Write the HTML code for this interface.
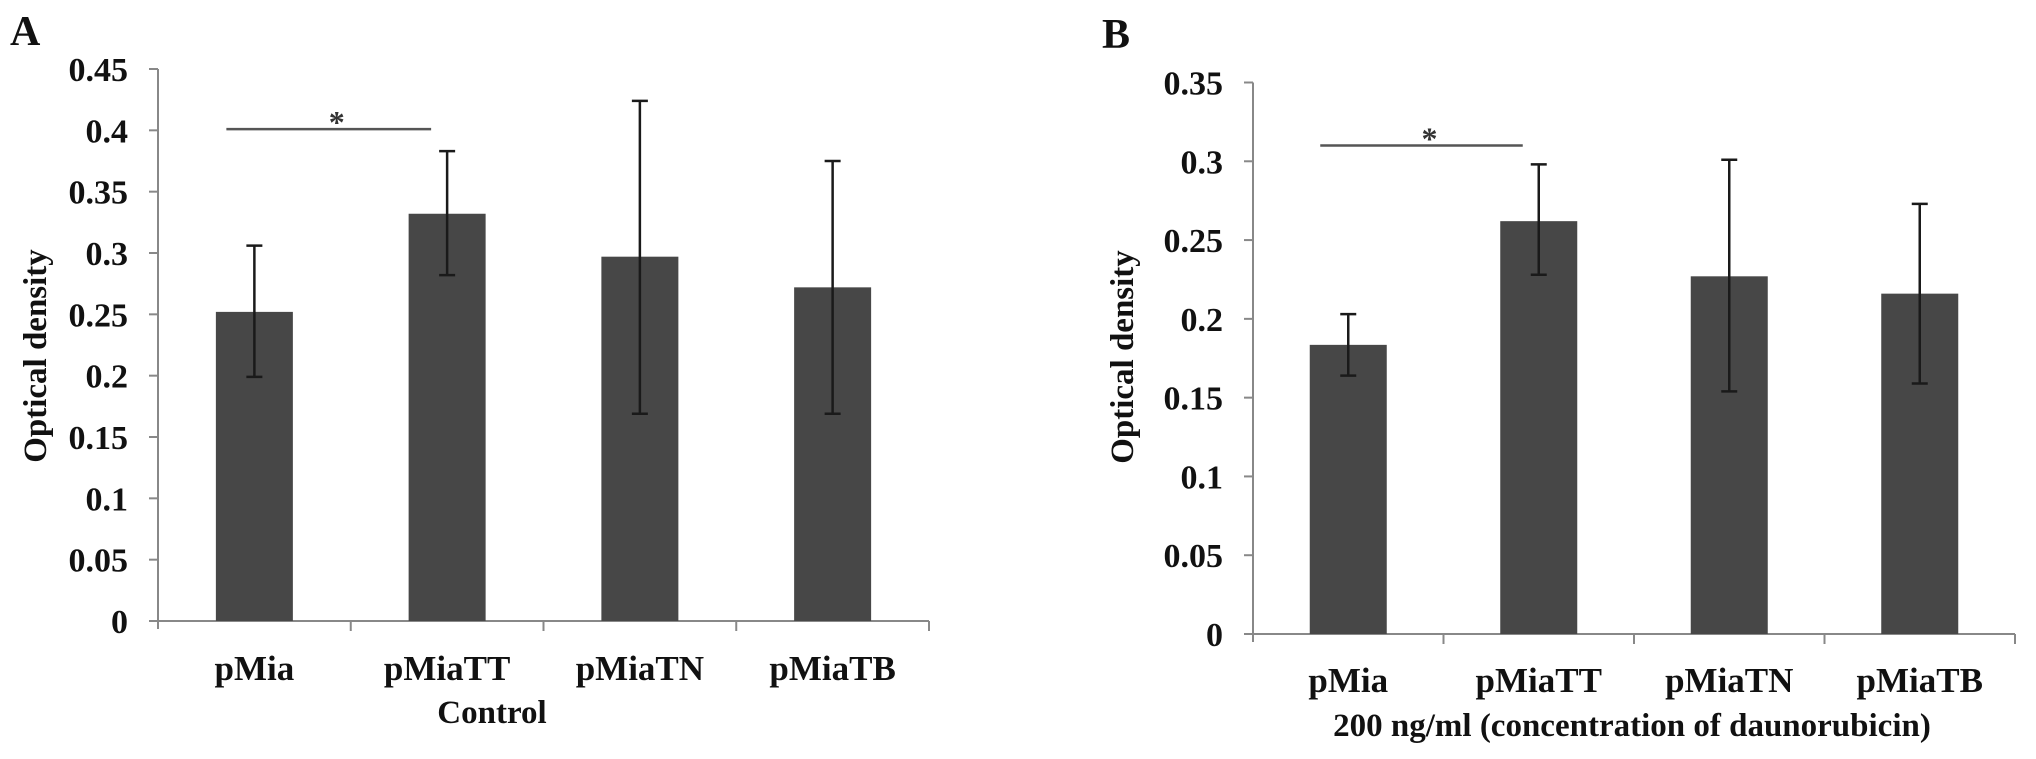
<!DOCTYPE html>
<html><head><meta charset="utf-8"><style>
html,body{margin:0;padding:0;background:#fff;}
svg{display:block;font-family:"Liberation Serif",serif;font-weight:bold;}
</style></head><body>
<svg id="fig" width="2036" height="759" viewBox="0 0 2036 759" xmlns="http://www.w3.org/2000/svg"></svg>
<script>
const categories = ["pMia","pMiaTT","pMiaTN","pMiaTB"];
const valuesA = [0.252,0.332,0.297,0.272];
const errHighA = [0.306,0.383,0.424,0.375];
const errLowA = [0.199,0.282,0.169,0.169];
const ticksA = [0,0.05,0.1,0.15,0.2,0.25,0.3,0.35,0.4,0.45];
const tickLabelsA = ["0","0.05","0.1","0.15","0.2","0.25","0.3","0.35","0.4","0.45"];
const sigA = [0,1,0.401];
const valuesB = [0.1835,0.262,0.227,0.216];
const errHighB = [0.203,0.298,0.301,0.273];
const errLowB = [0.164,0.228,0.154,0.159];
const ticksB = [0,0.05,0.1,0.15,0.2,0.25,0.3,0.35];
const tickLabelsB = ["0","0.05","0.1","0.15","0.2","0.25","0.3","0.35"];
const sigB = [0,1,0.310];

const NS="http://www.w3.org/2000/svg";
const svg=document.getElementById('fig');
function mk(tag,attrs,parent){const e=document.createElementNS(NS,tag);for(const k in attrs)e.setAttribute(k,attrs[k]);(parent||svg).appendChild(e);return e;}

function panel(cfg){
  const g=mk('g',{});
  
  
  const y=v=>cfg.y0-(v/cfg.max)*(cfg.y0-cfg.yTop);
  const band=(cfg.x1-cfg.x0)/categories.length;
  const xc=i=>cfg.x0+band*(i+0.5);
  const L=mk('text',{x:cfg.letterX,y:cfg.letterY,'font-size':42,fill:'#111'},g);L.textContent=cfg.id;
  
  
  const ya=mk('line',{x1:cfg.x0,y1:y(cfg.max),x2:cfg.x0,y2:cfg.y0+8,stroke:'#888','stroke-width':2},g);
  
  
  cfg.ticks.forEach((t,i)=>{
    mk('line',{x1:cfg.x0-9,y1:y(t),x2:cfg.x0,y2:y(t),stroke:'#888','stroke-width':2},g);
    const tl=mk('text',{x:cfg.x0-30,y:y(t)+12,'font-size':34,'text-anchor':'end',fill:'#111'},g);
    tl.textContent=cfg.labels[i];
    
    
  });
  const xa=mk('line',{x1:cfg.x0-9,y1:cfg.y0,x2:cfg.x1,y2:cfg.y0,stroke:'#888','stroke-width':2},g);
  
  
  for(let i=1;i<=categories.length;i++) mk('line',{x1:cfg.x0+band*i,y1:cfg.y0,x2:cfg.x0+band*i,y2:cfg.y0+10,stroke:'#888','stroke-width':2},g);
  const bw=77;
  cfg.vals.forEach((v,i)=>{
    const r=mk('rect',{x:xc(i)-bw/2,y:y(v),width:bw,height:cfg.y0-y(v),fill:'#474747'},g);
    
    
    const eb=mk('g',{stroke:'#1a1a1a','stroke-width':2.5},g);
    
    
    mk('line',{x1:xc(i),y1:y(cfg.hi[i]),x2:xc(i),y2:y(cfg.lo[i])},eb);
    mk('line',{x1:xc(i)-8,y1:y(cfg.hi[i]),x2:xc(i)+8,y2:y(cfg.hi[i])},eb);
    mk('line',{x1:xc(i)-8,y1:y(cfg.lo[i]),x2:xc(i)+8,y2:y(cfg.lo[i])},eb);
    const cl=mk('text',{x:xc(i),y:cfg.catY,'font-size':35,'text-anchor':'middle',fill:'#111'},g);
    cl.textContent=categories[i];
    
    
  });
  const sl=mk('line',{x1:xc(cfg.sig[0])-28,y1:y(cfg.sig[2]),x2:xc(cfg.sig[1])-16,y2:y(cfg.sig[2]),stroke:'#555','stroke-width':2.5},g);
  
  
  const st=mk('text',{x:(xc(cfg.sig[0])+xc(cfg.sig[1]))/2-14,y:y(cfg.sig[2])+4,'font-size':32,'text-anchor':'middle',fill:'#333'},g);
  st.textContent='*';
  
  
  const xt=mk('text',{x:cfg.xtX,y:cfg.xtY,'font-size':33,'text-anchor':'middle',fill:'#111'},g);
  xt.textContent=cfg.xtitle;
  
  
  const yt=mk('text',{x:0,y:0,'font-size':33,'text-anchor':'middle',fill:'#111',transform:`translate(${cfg.ytX},${cfg.ytY}) rotate(-90)`},g);
  yt.textContent='Optical density';
  
  
}
panel({id:'A',x0:158,x1:929,y0:621,yTop:69,max:0.45,ticks:ticksA,labels:tickLabelsA,vals:valuesA,hi:errHighA,lo:errLowA,sig:sigA,
  letterX:10,letterY:45,catY:680,xtitle:'Control',xtX:492,xtY:723,ytX:46,ytY:356});
panel({id:'B',x0:1253,x1:2015,y0:634,yTop:82.5,max:0.35,ticks:ticksB,labels:tickLabelsB,vals:valuesB,hi:errHighB,lo:errLowB,sig:sigB,
  letterX:1102,letterY:48,catY:692,xtitle:'200 ng/ml (concentration of daunorubicin)',xtX:1632,xtY:736,ytX:1133,ytY:357});
</script>
</body></html>
